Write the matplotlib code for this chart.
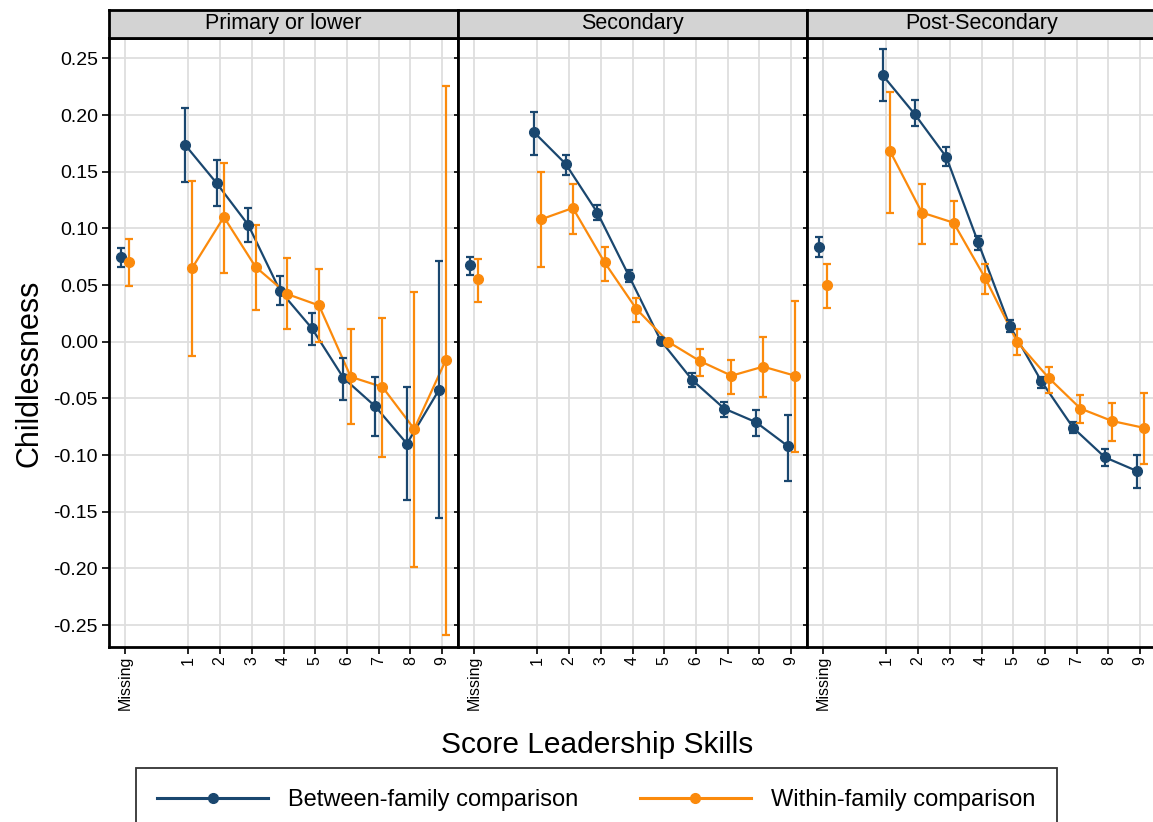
import numpy as np
import matplotlib
matplotlib.use("Agg")
import matplotlib.pyplot as plt

plt.rcParams['font.family'] = ['Liberation Sans', 'DejaVu Sans']

# positions on the x axis: "Missing" then scores 1..9
x_pos = [-1, 1, 2, 3, 4, 5, 6, 7, 8, 9]
x_labels = ["Missing", "1", "2", "3", "4", "5", "6", "7", "8", "9"]
panels = ["Primary or lower", "Secondary", "Post-Secondary"]

# between-family estimates (point, lower, upper), one list per panel
between_est = [
    [0.075, 0.174, 0.140, 0.103, 0.045, 0.012, -0.032, -0.057, -0.090, -0.043],
    [0.068, 0.185, 0.157, 0.114, 0.058, 0.001, -0.034, -0.059, -0.071, -0.092],
    [0.084, 0.235, 0.201, 0.163, 0.088, 0.014, -0.035, -0.076, -0.102, -0.114],
]
between_lo = [
    [0.066, 0.141, 0.120, 0.088, 0.032, -0.003, -0.051, -0.083, -0.140, -0.156],
    [0.059, 0.165, 0.147, 0.107, 0.053, -0.002, -0.040, -0.066, -0.083, -0.123],
    [0.075, 0.212, 0.190, 0.155, 0.081, 0.009, -0.041, -0.081, -0.110, -0.129],
]
between_hi = [
    [0.083, 0.206, 0.160, 0.118, 0.058, 0.025, -0.014, -0.031, -0.040, 0.071],
    [0.075, 0.203, 0.165, 0.121, 0.063, 0.003, -0.028, -0.053, -0.060, -0.065],
    [0.092, 0.258, 0.213, 0.172, 0.093, 0.019, -0.031, -0.071, -0.095, -0.100],
]

# within-family estimates
within_est = [
    [0.070, 0.065, 0.110, 0.066, 0.042, 0.032, -0.031, -0.040, -0.077, -0.016],
    [0.055, 0.108, 0.118, 0.070, 0.029, 0.000, -0.017, -0.030, -0.022, -0.030],
    [0.050, 0.168, 0.114, 0.105, 0.056, 0.000, -0.032, -0.059, -0.070, -0.076],
]
within_lo = [
    [0.049, -0.013, 0.061, 0.028, 0.011, 0.000, -0.073, -0.102, -0.199, -0.259],
    [0.035, 0.066, 0.095, 0.054, 0.017, -0.002, -0.030, -0.046, -0.049, -0.097],
    [0.030, 0.114, 0.086, 0.086, 0.042, -0.012, -0.045, -0.072, -0.088, -0.108],
]
within_hi = [
    [0.091, 0.142, 0.158, 0.103, 0.074, 0.064, 0.011, 0.021, 0.044, 0.226],
    [0.073, 0.150, 0.139, 0.084, 0.039, 0.002, -0.006, -0.016, 0.004, 0.036],
    [0.069, 0.220, 0.139, 0.124, 0.069, 0.011, -0.022, -0.047, -0.054, -0.045],
]

yticks = [0.25, 0.20, 0.15, 0.10, 0.05, 0.00, -0.05, -0.10, -0.15, -0.20, -0.25]

navy = '#1a476f'
orange = '#fb8a0c'

W, H = 1153, 822
fig = plt.figure(figsize=(W / 100, H / 100), dpi=100)

left = 109 / W
pw = 349 / W
bottom = 1 - 647 / H
ph = (647 - 38) / H
strip_h = 28 / H

for i in range(3):
    ax = fig.add_axes([left + i * pw, bottom, pw, ph])

    xb = np.array(x_pos) - 0.11
    xw = np.array(x_pos) + 0.12
    b = np.array(between_est[i])
    w = np.array(within_est[i])

    # lines only join the scores 1..9, "Missing" stands alone
    ax.plot(xb[1:], b[1:], color=navy, lw=1.6, zorder=3)
    ax.plot(xw[1:], w[1:], color=orange, lw=1.6, zorder=3)
    ax.errorbar(xb, b, yerr=[b - np.array(between_lo[i]), np.array(between_hi[i]) - b],
                fmt='o', color=navy, ms=7, elinewidth=1.6, capsize=3.2, capthick=1.6, zorder=4)
    ax.errorbar(xw, w, yerr=[w - np.array(within_lo[i]), np.array(within_hi[i]) - w],
                fmt='o', color=orange, ms=7, elinewidth=1.6, capsize=3.2, capthick=1.6, zorder=4)

    ax.set_xlim(-1.5, 9.5)
    ax.set_ylim(-0.2694, 0.268)
    ax.set_xticks(x_pos)
    ax.set_xticklabels(x_labels, rotation=90, fontsize=11.5)
    ax.set_yticks(yticks)
    ax.grid(True, color='#dedede', lw=1.3)
    ax.set_axisbelow(True)
    ax.tick_params(axis='both', direction='out', length=5, width=1.2, color='black', pad=3)
    ax.tick_params(axis='x', pad=1.5)
    if i == 0:
        ax.set_yticklabels(['%.2f' % v for v in yticks], fontsize=14)
        ax.set_ylabel('Childlessness', fontsize=22)
        ax.yaxis.set_label_coords(-0.185, 0.45)
    else:
        ax.set_yticklabels([])
        ax.tick_params(axis='y', length=3)
    for s in ax.spines.values():
        s.set_linewidth(2)
        s.set_color('black')

    # panel header strip
    strip = fig.add_axes([left + i * pw, bottom + ph, pw, strip_h])
    strip.set_xticks([])
    strip.set_yticks([])
    strip.set_facecolor('#d3d3d3')
    for s in strip.spines.values():
        s.set_linewidth(2)
    strip.text(0.5, 0.5, panels[i], ha='center', va='center', fontsize=15.5,
               transform=strip.transAxes)

fig.text(597 / W, 1 - 745 / H, 'Score Leadership Skills', ha='center', va='center',
         fontsize=21.5)

handles = [
    plt.Line2D([], [], color=navy, lw=2.2, marker='o', ms=7),
    plt.Line2D([], [], color=orange, lw=2.2, marker='o', ms=7),
]
leg = fig.legend(handles, ['Between-family comparison', 'Within-family comparison'],
                 loc='upper left', bbox_to_anchor=(136 / W, 1 - 768 / H), ncol=2,
                 fontsize=17, handlelength=4.7, handletextpad=0.85, columnspacing=2.6,
                 borderpad=0.9, borderaxespad=0, frameon=True, fancybox=False)
leg.get_frame().set_edgecolor('black')
leg.get_frame().set_linewidth(1.3)

fig.savefig('out.png', dpi=100)
